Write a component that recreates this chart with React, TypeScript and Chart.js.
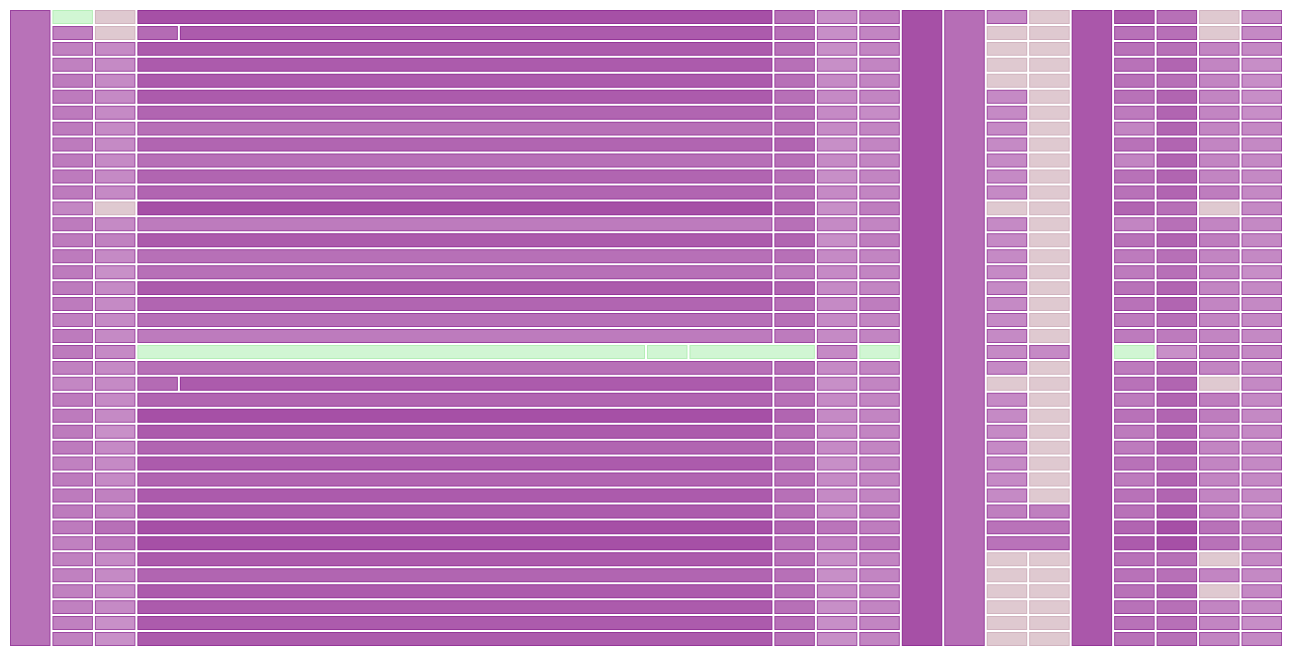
import React, { useEffect, useRef } from "react";
import { Chart, registerables } from "chart.js";

Chart.register(...registerables);

// ---- rows (40) and a single "all rows" band for fully merged columns
const ROW_LABELS = [
  "R01", "R02", "R03", "R04", "R05", "R06", "R07", "R08", "R09", "R10",
  "R11", "R12", "R13", "R14", "R15", "R16", "R17", "R18", "R19", "R20",
  "R21", "R22", "R23", "R24", "R25", "R26", "R27", "R28", "R29", "R30",
  "R31", "R32", "R33", "R34", "R35", "R36", "R37", "R38", "R39", "R40",
];
const ALL_LABEL = ["ALL"];
const COLUMN_COUNT = 30;

// level codes: -1 = green, 0 = pink-grey, 1..7 = light -> dark purple
const FULL_FROM = [0, 21, 22, 25];
const FULL_TO = [1, 22, 23, 26];
const FULL_LEVELS = [3.8, 7, 4.2, 6.3];

const COL1 = [-1, 2.4, 2.4, 2.4, 3, 3, 3, 3, 3, 3, 3, 3, 1.8, 3, 3, 3, 3, 3, 3, 2.4, 3, 3, 2.4, 1.8, 3, 3, 3, 3, 2.4, 3, 3, 3, 3, 2.4, 2.4, 2.4, 2.4, 2.4, 2.4, 2.4];
const COL2 = [0, 0, 1.6, 1.6, 1.6, 1.6, 1.6, 1.6, 1.6, 1.6, 1.6, 1.6, 0, 1.6, 2.4, 1.6, 1, 1.6, 1.6, 1.6, 1.6, 1.6, 1.6, 1.6, 1.6, 1.6, 1, 1.6, 1.6, 1.6, 2.4, 2.4, 4, 3.2, 1.6, 1.6, 1.6, 1.6, 1, 1];
const WIDE = [7, null, 6, 6, 6, 6, 5, 4, 5, 4, 5, 5, 7, 3, 6, 4, 4, 6, 5, 4, 3, null, 4, null, 5, 7, 6, 5, 6, 5, 6, 6, 7, 7, 6, 5, 6, 6, 6, 6];
const COL18 = [4, 4, 4, 4, 4, 4, 4, 4, 5, 4, 4, 4, 5, 4, 5, 4, 3, 5, 4, 4, 3, null, 4, 4, 4, 5, 4, 4, 4, 4, 4, 4, 5, 4, 4, 4, 4, 4, 4, 4];
const COL19 = [1.1, 1.1, 1.1, 1.1, 1.6, 1.6, 1.6, 1.6, 1.1, 1.6, 1.1, 1.6, 1.1, 1.6, 1.1, 1.6, 1.6, 1.6, 1.6, 1.6, 1.6, 1.6, 1.6, 1.1, 1.6, 1.6, 1.6, 1.6, 1.1, 1.6, 1.6, 1.6, 3.5, 2.5, 1.1, 1.1, 1.6, 1.1, 1.1, 1.1];
const COL20 = [2.8, 2, 2, 2, 2, 2, 1.4, 2, 2, 2, 2, 2, 2.8, 2, 2.8, 2, 2, 2, 2.8, 2, 2, -1, 2, 2, 2, 2, 2, 2, 2, 2, 2, 2.8, 2.8, 3.5, 2, 2, 2, 2, 2, 2];
const COL23 = [1.6, 0, 0, 0, 0, 1.6, 1.6, 1.6, 1.6, 1.6, 1.6, 1.6, 0, 1.6, 1.6, 1.6, 1.6, 1.6, 1.6, 1.6, 1.6, 1.6, 1.6, 0, 1.6, 1.6, 1.6, 1.6, 1.6, 1.6, 1.6, 2.6, null, null, 0, 0, 0, 0, 0, 0];
const COL24 = [0, 0, 0, 0, 0, 0, 0, 0, 0, 0, 0, 0, 0, 0, 0, 0, 0, 0, 0, 0, 0, 1.6, 0, 0, 0, 0, 0, 0, 0, 0, 0, 2.6, null, null, 0, 0, 0, 0, 0, 0];
const COL26 = [6, 3.8, 3.8, 3.8, 3.8, 3.8, 3, 2, 3.8, 2, 3.8, 3.8, 5, 2, 3.8, 3, 3, 3.8, 3.8, 3, 3, -1, 3, 3.8, 3, 3.8, 3, 3, 3.8, 3, 3.8, 3.8, 5, 6, 3.8, 3.8, 3.8, 3.8, 3.8, 3.8];
const COL27 = [4, 4, 4, 5, 4, 5, 5, 5, 5, 5, 5, 5, 4, 4, 5, 4, 4, 5, 5, 4, 3, 1, 4, 5, 5, 5, 5, 5, 4, 5, 5, 6, 7, 7, 4, 4, 5, 4, 4, 4];
const COL28 = [0, 0, 2, 2, 2, 2, 2, 2, 2, 2, 2, 2.8, 0, 2, 2.8, 2, 2, 2, 2, 2, 2, 2, 2, 0, 2.8, 2.8, 2, 2, 2, 2, 2, 2.8, 3.8, 3.8, 0, 2, 0, 2, 2, 2];
const COL29 = [1.2, 1.7, 1.7, 1.2, 1.2, 1.2, 1.2, 1.7, 1.7, 1.7, 1.7, 1.7, 1.7, 1.7, 1.7, 1.7, 1.2, 1.7, 1.7, 1.7, 1.7, 1.7, 1.7, 1.7, 1.7, 1.7, 1.7, 1.7, 1.7, 1.7, 1.7, 1.7, 2.7, 2.7, 1.7, 1.7, 1.7, 1.7, 1.2, 1.7];

const SPAN_FROM = [1, 2, 3, 18, 19, 20, 23, 24, 26, 27, 28, 29];
const SPAN_TO = [2, 3, 18, 19, 20, 21, 24, 25, 27, 28, 29, 30];
const SPAN_LEVELS = [COL1, COL2, WIDE, COL18, COL19, COL20, COL23, COL24, COL26, COL27, COL28, COL29];

// irregular merged cells within single rows
const MERGED_ROWS = [1, 1, 23, 23, 21, 21, 21, 32, 33];
const MERGED_FROM = [3, 4, 3, 4, 3, 15, 16, 23, 23];
const MERGED_TO = [4, 18, 4, 18, 15, 16, 19, 25, 25];
const MERGED_LEVELS = [4.5, 6, 4.5, 6, -1, -1, -1, 3.7, 3.7];

// ---- colours
const GREEN_FILL = "#d1f6d3";
const GREEN_EDGE = "#b5eeb7";
const PINK_FILL = "#dfc9d0";
const PINK_EDGE = "#d1b3bf";
const LIGHT_RGB = [200, 144, 200];
const DARK_RGB = [166, 80, 166];
const EDGE_RGB = [128, 24, 136];

function purple(level: number): number[] {
  const t = Math.max(0, Math.min(1, (level - 1) / 6));
  return LIGHT_RGB.map((c, i) => c + (DARK_RGB[i] - c) * t);
}
function rgb(v: number[]) {
  return `rgb(${v.map((c) => Math.round(c)).join(",")})`;
}
function fillFor(level: number) {
  if (level < 0) return GREEN_FILL;
  if (level === 0) return PINK_FILL;
  return rgb(purple(level));
}
function edgeFor(level: number) {
  if (level < 0) return GREEN_EDGE;
  if (level === 0) return PINK_EDGE;
  const p = purple(level);
  return rgb(p.map((c, i) => c * 0.45 + EDGE_RGB[i] * 0.55));
}

type Cell = { x: [number, number]; y: string; level: number };

function buildCells(): Cell[] {
  const cells: Cell[] = [];
  SPAN_LEVELS.forEach((levels, s) => {
    levels.forEach((lv, r) => {
      if (lv === null || lv === undefined) return;
      cells.push({ x: [SPAN_FROM[s], SPAN_TO[s]], y: ROW_LABELS[r], level: lv });
    });
  });
  MERGED_ROWS.forEach((r, i) => {
    cells.push({ x: [MERGED_FROM[i], MERGED_TO[i]], y: ROW_LABELS[r], level: MERGED_LEVELS[i] });
  });
  return cells;
}

function buildFull(): Cell[] {
  return FULL_FROM.map((f, i) => ({ x: [f, FULL_TO[i]], y: ALL_LABEL[0], level: FULL_LEVELS[i] }));
}

const common = {
  grouped: false,
  barPercentage: 1,
  categoryPercentage: 1,
  borderSkipped: false,
  inflateAmount: 0,
};

export default function App() {
  const ref = useRef<HTMLCanvasElement | null>(null);

  useEffect(() => {
    if (!ref.current) return;
    const cells = buildCells();
    const full = buildFull();
    const chart = new Chart(ref.current, {
      type: "bar",
      data: {
        labels: ROW_LABELS,
        datasets: [
          {
            ...common,
            label: "full-edge",
            yAxisID: "yAll",
            data: full as any,
            backgroundColor: full.map((c) => edgeFor(c.level)),
            borderColor: "#ffffff",
            borderWidth: 1,
            order: 4,
          } as any,
          {
            ...common,
            label: "full",
            yAxisID: "yAll",
            data: full as any,
            backgroundColor: full.map((c) => fillFor(c.level)),
            borderColor: "rgba(0,0,0,0)",
            borderWidth: 2,
            order: 3,
          } as any,
          {
            ...common,
            label: "cell-edge",
            yAxisID: "y",
            data: cells as any,
            backgroundColor: cells.map((c) => edgeFor(c.level)),
            borderColor: "#ffffff",
            borderWidth: 1,
            order: 2,
          } as any,
          {
            ...common,
            label: "cell",
            yAxisID: "y",
            data: cells as any,
            backgroundColor: cells.map((c) => fillFor(c.level)),
            borderColor: "rgba(0,0,0,0)",
            borderWidth: 2,
            order: 1,
          } as any,
        ],
      },
      options: {
        indexAxis: "y",
        animation: false,
        responsive: false,
        layout: { padding: { left: 1, top: 1, right: 3, bottom: 3 } },
        plugins: { legend: { display: false }, tooltip: { enabled: false } },
        scales: {
          x: { type: "linear", min: 0, max: COLUMN_COUNT, display: false },
          y: { type: "category", labels: ROW_LABELS, offset: true, display: false },
          yAll: { type: "category", labels: ALL_LABEL, offset: true, display: false },
        },
      } as any,
    });
    return () => chart.destroy();
  }, []);

  return <canvas ref={ref} width={1278} height={642} style={{ display: "block" }} />;
}
